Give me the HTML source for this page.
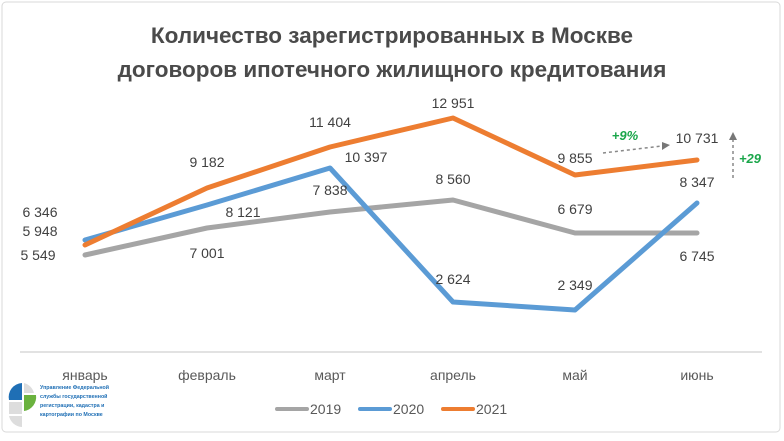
<!DOCTYPE html>
<html><head><meta charset="utf-8"><style>
body{margin:0;background:#fff;}
svg{display:block;font-family:"Liberation Sans","DejaVu Sans",sans-serif;}
</style></head><body>
<svg width="784" height="441" viewBox="0 0 784 441">
<rect x="2" y="2" width="778" height="430" rx="4" fill="#fff" stroke="#d9d9d9"/>
<text x="392" y="43" text-anchor="middle" font-size="22.5" font-weight="bold" fill="#4a4a4a">Количество зарегистрированных в Москве</text>
<text x="392" y="77" text-anchor="middle" font-size="22.5" font-weight="bold" fill="#4a4a4a">договоров ипотечного жилищного кредитования</text>
<line x1="20" y1="352" x2="762" y2="352" stroke="#d9d9d9" stroke-width="1.5"/>
<g font-size="14" fill="#595959" text-anchor="middle">
<text x="85" y="380">январь</text><text x="207" y="380">февраль</text><text x="330" y="380">март</text><text x="453" y="380">апрель</text><text x="575" y="380">май</text><text x="697" y="380">июнь</text>
</g>
<g fill="none" stroke-width="5" stroke-linejoin="round" stroke-linecap="round">
<polyline stroke="#a5a5a5" points="85,255 207,228 330,212 453,200 575,233 697,233"/>
<polyline stroke="#5b9bd5" points="85,240 207,205 330,168 453,302 575,310 697,203"/>
<polyline stroke="#ed7d31" points="85,245 207,188 330,147 453,118 575,175 697,160"/>
</g>
<g font-size="14" fill="#404040" text-anchor="middle">
<text x="40" y="217">6 346</text><text x="40" y="236">5 948</text><text x="38" y="260">5 549</text>
<text x="207" y="167">9 182</text><text x="243" y="217">8 121</text><text x="207" y="258">7 001</text>
<text x="330" y="127">11 404</text><text x="366" y="162">10 397</text><text x="330" y="195">7 838</text>
<text x="453" y="108">12 951</text><text x="453" y="184">8 560</text><text x="453" y="284">2 624</text>
<text x="575" y="163">9 855</text><text x="575" y="214">6 679</text><text x="575" y="290">2 349</text>
<text x="697" y="143">10 731</text><text x="697" y="187">8 347</text><text x="697" y="261">6 745</text>
</g>
<g stroke="#888" stroke-width="1.5" stroke-dasharray="3,3" fill="none">
<line x1="603" y1="153" x2="662" y2="146"/>
<line x1="733" y1="178" x2="733" y2="140"/>
</g>
<polygon points="662,142 670,145 662,150" fill="#777"/>
<polygon points="729,140 733,132 737,140" fill="#777"/>
<text x="625" y="140" font-size="13" font-weight="bold" font-style="italic" fill="#1aa64a" text-anchor="middle">+9%</text>
<text x="750" y="163" font-size="13" font-weight="bold" font-style="italic" fill="#1aa64a" text-anchor="middle">+29</text>
<g stroke-width="4" stroke-linecap="round">
<line x1="277" y1="409" x2="307" y2="409" stroke="#a5a5a5"/>
<line x1="360" y1="409" x2="390" y2="409" stroke="#5b9bd5"/>
<line x1="443" y1="409" x2="473" y2="409" stroke="#ed7d31"/>
</g>
<g font-size="14" fill="#595959">
<text x="310" y="414">2019</text><text x="393" y="414">2020</text><text x="476" y="414">2021</text>
</g>
<g>
<path d="M9,400 A14,14 0 0 1 22,383 L22,400 Z" fill="#1f6fb5"/>
<path d="M24,383 A14,14 0 0 1 34,393 L24,393 Z" fill="#ddd"/>
<rect x="9" y="402" width="13" height="12" fill="#ddd"/>
<path d="M24,395 L36,395 A14,14 0 0 1 24,411 Z" fill="#6ab23e"/>
<path d="M9,416 L22,416 L22,427 A14,14 0 0 1 9,416Z" fill="#ddd"/>
</g>
<g font-size="5.3" fill="#1f6fb5" font-weight="bold">
<text x="40" y="389">Управление Федеральной</text>
<text x="40" y="398">службы государственной</text>
<text x="40" y="407">регистрации, кадастра и</text>
<text x="40" y="416">картографии по Москве</text>
</g>
</svg>
</body></html>
